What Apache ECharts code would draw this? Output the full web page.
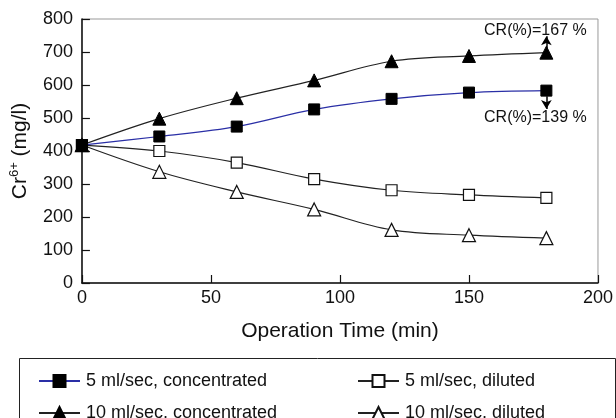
<!DOCTYPE html>
<html>
<head>
<meta charset="utf-8">
<script src="https://cdn.jsdelivr.net/npm/echarts@6/dist/echarts.min.js"></script>
<style>
html,body{margin:0;padding:0;background:#fff;}
#chart{width:616px;height:418px;}
</style>
</head>
<body>
<div id="chart"></div>
<script>
const times = [0, 30, 60, 90, 120, 150, 180];
const conc5 = [418, 444, 474, 526, 558, 577, 583];
const conc10 = [418, 498, 560, 614, 672, 688, 698];
const dil5 = [418, 400, 365, 315, 281, 267, 258];
const dil10 = [418, 337, 276, 223, 161, 145, 136];
const seriesNames = ['5 ml/sec, concentrated', '10 ml/sec, concentrated', '5 ml/sec, diluted', '10 ml/sec, diluted'];
const xTicks = [0, 50, 100, 150, 200];
const yTicks = [0, 100, 200, 300, 400, 500, 600, 700, 800];
const crLabels = ['CR(%)=167 %', 'CR(%)=139 %'];

const FONT = 'Liberation Sans, Arial, sans-serif';
const pair = arr => times.map((t, i) => [t, arr[i]]);
const last = arr => [times[times.length - 1], arr[arr.length - 1]];

const legendPos = [[33, 367], [33, 399], [352, 367], [352, 399]];
const legends = seriesNames.map((n, i) => ({
  left: legendPos[i][0], top: legendPos[i][1], orient: 'horizontal',
  itemWidth: 41, itemHeight: 15, itemGap: 0, selectedMode: false,
  data: [n],
  textStyle: {fontSize: 18, color: '#111', fontFamily: FONT, padding: [0, 0, 0, 1]}
}));

const chart = echarts.init(document.getElementById('chart'), null, {renderer: 'canvas'});
const option = {
  animation: false,
  backgroundColor: '#fff',
  textStyle: {fontFamily: FONT},
  grid: {left: 79, right: 18, top: 19, bottom: 135, show: true, borderColor: '#999', borderWidth: 1},
  xAxis: {
    type: 'value', min: xTicks[0], max: xTicks[xTicks.length - 1], interval: 50,
    name: 'Operation Time (min)', nameLocation: 'middle', nameGap: 38,
    nameTextStyle: {fontSize: 21, color: '#111', fontFamily: FONT},
    axisLine: {lineStyle: {color: '#111', width: 1.5}},
    axisTick: {inside: true, length: 8, lineStyle: {color: '#111', width: 1.2}},
    axisLabel: {fontSize: 18, color: '#111', margin: 6, fontFamily: FONT},
    splitLine: {show: false}
  },
  yAxis: {
    type: 'value', min: yTicks[0], max: yTicks[yTicks.length - 1], interval: 100,
    name: 'Cr{sup|6+} (mg/l)', nameLocation: 'middle', nameGap: 47, nameRotate: 90,
    nameTextStyle: {fontSize: 21, color: '#111', fontFamily: FONT, lineHeight: 24,
      rich: {sup: {fontSize: 13, lineHeight: 13, verticalAlign: 'top', color: '#111', fontFamily: FONT}}},
    axisLine: {show: true, lineStyle: {color: '#111', width: 1.5}},
    axisTick: {show: true, inside: true, length: 8, lineStyle: {color: '#111', width: 1.2}},
    axisLabel: {fontSize: 18, color: '#111', margin: 9, fontFamily: FONT},
    splitLine: {show: false}
  },
  legend: legends,
  graphic: [
    {type: 'rect', left: 17, top: 356, shape: {width: 596, height: 80}, style: {fill: 'none', stroke: '#222', lineWidth: 1}, z: -1}
  ],
  series: [
    {
      name: seriesNames[3], type: 'line', data: pair(dil10), smooth: 0.35, z: 2,
      symbol: 'triangle', symbolSize: 13,
      itemStyle: {color: '#fff', borderColor: '#111', borderWidth: 1.2},
      lineStyle: {color: '#222', width: 1.2}
    },
    {
      name: seriesNames[2], type: 'line', data: pair(dil5), smooth: 0.35, z: 3,
      symbol: 'rect', symbolSize: 11,
      itemStyle: {color: '#fff', borderColor: '#111', borderWidth: 1.2},
      lineStyle: {color: '#222', width: 1.2}
    },
    {
      name: seriesNames[1], type: 'line', data: pair(conc10), smooth: 0.35, z: 4,
      symbol: 'triangle', symbolSize: 13,
      itemStyle: {color: '#000', borderColor: '#000', borderWidth: 1},
      lineStyle: {color: '#222', width: 1.2},
      markPoint: {
        symbol: 'circle', symbolSize: 0, silent: true,
        label: {show: true, formatter: crLabels[0], fontSize: 16, color: '#111', fontFamily: FONT, offset: [-11, -22]},
        data: [{coord: last(conc10)}]
      },
      markLine: {
        silent: true, symbol: ['none', 'arrow'], symbolSize: [8, 9],
        lineStyle: {color: '#000', width: 1.5, type: 'solid'}, label: {show: false},
        data: [[{coord: [180, 712]}, {coord: [180, 748]}]]
      }
    },
    {
      name: seriesNames[0], type: 'line', data: pair(conc5), smooth: 0.35, z: 5,
      symbol: 'rect', symbolSize: 11,
      itemStyle: {color: '#000', borderColor: '#000', borderWidth: 1},
      lineStyle: {color: '#2a2fa6', width: 1.2},
      markPoint: {
        symbol: 'circle', symbolSize: 0, silent: true,
        label: {show: true, formatter: crLabels[1], fontSize: 16, color: '#111', fontFamily: FONT, offset: [-11, 27]},
        data: [{coord: last(conc5)}]
      },
      markLine: {
        silent: true, symbol: ['none', 'arrow'], symbolSize: [8, 9],
        lineStyle: {color: '#000', width: 1.5, type: 'solid'}, label: {show: false},
        data: [[{coord: [180, 566]}, {coord: [180, 527]}]]
      }
    }
  ]
};
chart.setOption(option);
</script>
</body>
</html>
